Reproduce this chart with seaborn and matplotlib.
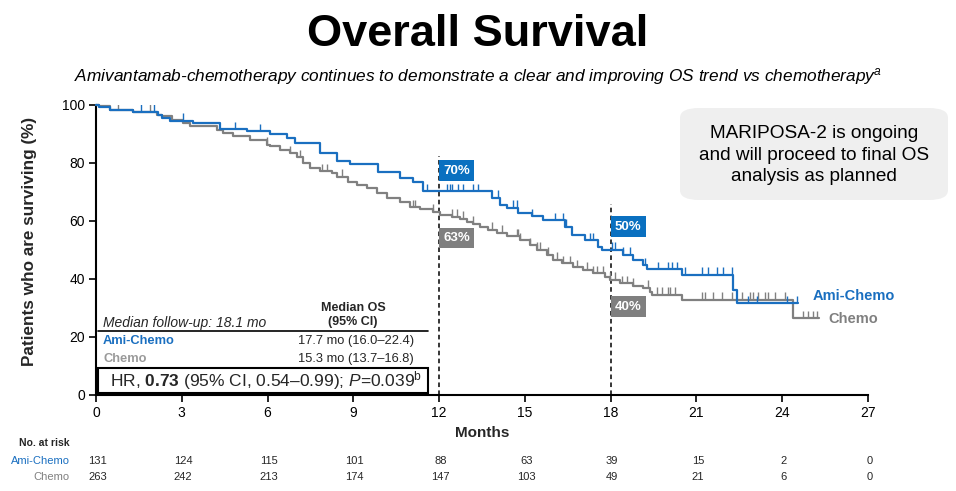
import numpy as np
import pandas as pd
import matplotlib
matplotlib.use("Agg")
import matplotlib.pyplot as plt
import matplotlib.transforms as mtransforms
from matplotlib.patches import FancyBboxPatch, Rectangle
import seaborn as sns

# ---------------- data ----------------
ami_t = [0, 0.1, 0.49, 1.29, 2.17, 2.31, 2.59, 3.39, 4.34, 5.28, 6.09, 6.68, 6.96, 7.83, 8.43, 8.88,
         9.86, 10.63, 11.09, 11.44, 13.85, 14.13, 14.38, 14.76, 15.25, 15.63, 16.40, 16.65,
         17.10, 17.56, 17.70, 18.43, 18.78, 19.13, 19.27, 20.50, 22.28, 22.42, 24.55]
ami_s = [100, 99.3, 98.3, 97.6, 96.6, 95.5, 94.5, 93.8, 91.7, 91.0, 90.0, 88.6, 86.9, 83.4, 80.7, 79.7,
         76.9, 75.0, 73.4, 70.3, 68.0, 65.5, 64.5, 62.8, 61.7, 60.3, 58.0, 55.2,
         53.4, 51.0, 50.0, 48.3, 46.5, 44.8, 43.4, 41.4, 36.2, 31.7, 31.7]
chemo_t = [0, 0.1, 0.49, 1.29, 2.13, 2.31, 2.66, 3.04, 3.29, 4.23, 4.44, 4.79, 5.39, 5.98, 6.09,
           6.44, 6.79, 7.03, 7.24, 7.49, 7.83, 8.25, 8.43, 8.81, 9.13, 9.48, 9.83, 10.18, 10.63,
           10.98, 11.33, 11.79, 12.03, 12.45, 12.73, 12.98, 13.19, 13.43, 13.71, 14.03, 14.38,
           14.83, 15.18, 15.42, 15.77, 15.98, 16.30, 16.68, 17.03, 17.38, 17.80, 17.98, 18.33,
           18.78, 19.13, 19.38, 19.45, 20.50, 24.38, 25.29]
chemo_s = [100, 99.5, 98.3, 97.6, 96.6, 96.2, 94.8, 93.8, 92.8, 91.4, 90.3, 89.3, 87.9, 86.2, 85.9,
           84.5, 83.4, 82.0, 80.0, 78.3, 77.2, 76.6, 75.2, 73.4, 72.4, 71.4, 69.7, 67.9, 66.6,
           64.8, 64.1, 63.1, 62.0, 61.4, 60.7, 59.7, 59.0, 58.0, 56.9, 55.9, 54.8,
           53.4, 51.7, 50.0, 48.3, 46.6, 45.5, 44.1, 43.1, 42.0, 40.7, 39.7, 38.6,
           37.6, 36.9, 35.5, 34.5, 32.8, 26.5, 26.5]

ami_cens = [1.57, 2.03, 3.04, 4.86, 5.74, 11.58, 12.28, 12.38, 12.45, 12.66, 12.84, 13.19, 13.36,
            14.06, 14.59, 14.73, 15.25, 16.05, 16.33, 16.44, 17.28, 17.38, 18.05, 18.15, 18.43,
            18.68, 19.20, 19.66, 20.01, 20.15, 20.32, 20.60, 21.20, 21.41, 21.72, 21.93, 22.24,
            22.80, 23.12, 24.17, 24.52]
chemo_cens = [0.77, 1.89, 5.98, 6.79, 7.14, 7.90, 8.08, 8.60, 11.09, 11.16, 11.79, 12.45, 12.63,
              12.84, 13.19, 13.85, 14.20, 14.73, 14.76, 14.83, 15.18, 15.42, 15.53, 15.81, 16.12,
              16.33, 16.58, 16.82, 17.17, 17.38, 17.52, 17.73, 17.98, 18.15, 18.40, 18.57, 18.78,
              19.31, 19.62, 19.80, 20.01, 20.08, 20.25, 21.20, 21.30, 21.58, 21.90, 22.24, 22.60,
              22.88, 22.98, 23.16, 23.40, 23.51, 23.75, 24.10, 24.73, 24.90, 25.08, 25.22]

risk_months = [0, 3, 6, 9, 12, 15, 18, 21, 24, 27]
risk_ami = [131, 124, 115, 101, 88, 63, 39, 15, 2, 0]
risk_chemo = [263, 242, 213, 174, 147, 103, 49, 21, 6, 0]

landmark_months = [12, 18]
landmark_ami = ["70%", "50%"]
landmark_chemo = ["63%", "40%"]

arms = ["Ami-Chemo", "Chemo"]
BLUE = "#1a6fc0"
GRAY = "#808080"
BOXBLUE = "#0a70c0"
BOXGRAY = "#7f7f7f"

# ---------------- figure ----------------
sns.set_theme(style="white")
plt.rcParams["font.family"] = ["Liberation Sans", "DejaVu Sans"]
plt.rcParams["mathtext.fontset"] = "custom"
plt.rcParams["mathtext.rm"] = "Liberation Sans"
plt.rcParams["mathtext.it"] = "Liberation Sans:italic"
plt.rcParams["mathtext.bf"] = "Liberation Sans:bold"

fig = plt.figure(figsize=(9.56, 4.91), dpi=100)
ax = fig.add_axes([96 / 956, 1 - 395 / 491, 772 / 956, 290 / 491])

df = pd.concat([
    pd.DataFrame({"Months": ami_t, "Surv": ami_s, "Arm": arms[0]}),
    pd.DataFrame({"Months": chemo_t, "Surv": chemo_s, "Arm": arms[1]}),
], ignore_index=True)

sns.lineplot(data=df, x="Months", y="Surv", hue="Arm", hue_order=arms,
             palette={arms[0]: BLUE, arms[1]: GRAY}, drawstyle="steps-post",
             estimator=None, sort=False, linewidth=1.6, legend=False, ax=ax)
for ln in ax.get_lines():
    ln.set_clip_on(False)
lines = ax.get_lines()
if len(lines) >= 2:
    lines[0].set_zorder(4)
    lines[1].set_zorder(3)


def step_val(ts, ss, c):
    i = np.searchsorted(np.array(ts), c, side="right") - 1
    return np.array(ss)[i]


ac = np.array(ami_cens)
cc = np.array(chemo_cens)
ax.vlines(cc, step_val(chemo_t, chemo_s, cc), step_val(chemo_t, chemo_s, cc) + 2.6,
          color=GRAY, lw=1.0, zorder=3)
ax.vlines(ac, step_val(ami_t, ami_s, ac), step_val(ami_t, ami_s, ac) + 2.6,
          color=BLUE, lw=1.0, zorder=4)

ax.set_xlim(0, 27)
ax.set_ylim(0, 100)
ax.set_xticks(risk_months)
ax.set_yticks([0, 20, 40, 60, 80, 100])
ax.tick_params(axis="both", direction="out", length=5, width=1.2, colors="black",
               labelsize=10, pad=3, left=True, bottom=True)
for s in ["top", "right"]:
    ax.spines[s].set_visible(False)
for s in ["left", "bottom"]:
    ax.spines[s].set_color("black")
    ax.spines[s].set_linewidth(1.5)
ax.set_xlabel("Months", fontsize=11, fontweight="bold", labelpad=4)
ax.set_ylabel("Patients who are surviving (%)", fontsize=12.3, fontweight="bold")
ax.yaxis.set_label_coords(-0.076, 0.528)
ax.patch.set_alpha(0)

# landmark dashed lines
ax.vlines([landmark_months[0]], 0, 82.5, colors="black", linestyles=(0, (3, 2.2)), lw=1.1, zorder=2)
ax.vlines([landmark_months[1]], 0, 66.0, colors="black", linestyles=(0, (3, 2.2)), lw=1.1, zorder=2)

lab_y_ami = [77.4, 58.1]
lab_y_chemo = [54.1, 30.5]
for m, ta, tc, ya, yc in zip(landmark_months, landmark_ami, landmark_chemo, lab_y_ami, lab_y_chemo):
    ax.text(m + 0.15, ya, ta, color="white", fontsize=9.5, fontweight="bold", va="center", ha="left",
            bbox=dict(boxstyle="square,pad=0.32", fc=BOXBLUE, ec="none"), zorder=6)
    ax.text(m + 0.15, yc, tc, color="white", fontsize=9.5, fontweight="bold", va="center", ha="left",
            bbox=dict(boxstyle="square,pad=0.32", fc=BOXGRAY, ec="none"), zorder=6)

# curve end labels
ax.text(25.05, 34.3, arms[0], color=BLUE, fontsize=10.5, fontweight="bold", va="center", ha="left")
ax.text(25.6, 26.2, arms[1], color=GRAY, fontsize=10.5, fontweight="bold", va="center", ha="left")

# ---------------- titles ----------------
fig.text(0.5, 1 - 35 / 491, "Overall Survival", ha="center", va="center", fontsize=32.5,
         fontweight="bold", color="black")
fig.text(0.5, 1 - 77 / 491,
         "Amivantamab-chemotherapy continues to demonstrate a clear and improving OS trend vs chemotherapy$^{a}$",
         ha="center", va="center", fontsize=12.4, style="italic", color="black")

# grey info box
box = FancyBboxPatch((680 / 956, 1 - 200 / 491), 268 / 956, 92 / 491,
                     boxstyle="round,pad=0,rounding_size=0.02", transform=fig.transFigure,
                     fc="#efefef", ec="none")
fig.patches.append(box)
fig.text(814 / 956, 1 - 155 / 491,
         "MARIPOSA-2 is ongoing\nand will proceed to final OS\nanalysis as planned",
         ha="center", va="center", fontsize=13.7, linespacing=1.33, color="black")

# ---------------- median table inside plot ----------------
def fy(py):
    return 1 - py / 491

fig.text(103 / 956, fy(323), "Median follow-up: 18.1 mo", style="italic", fontsize=10,
         ha="left", va="center")
fig.text(353 / 956, fy(308), "Median OS", fontweight="bold", fontsize=9, ha="center", va="center")
fig.text(353 / 956, fy(322), "(95% CI)", fontweight="bold", fontsize=9, ha="center", va="center")
fig.add_artist(plt.Line2D([98 / 956, 428 / 956], [fy(331), fy(331)], color="black", lw=1.2,
                          transform=fig.transFigure))
fig.text(103 / 956, fy(341), arms[0], color=BLUE, fontweight="bold", fontsize=9.3, ha="left", va="center")
fig.text(103 / 956, fy(359), arms[1], color="#9a9a9a", fontweight="bold", fontsize=9.3, ha="left", va="center")
fig.text(414 / 956, fy(341), "17.7 mo (16.0\u201322.4)", fontsize=9.3, ha="right", va="center")
fig.text(414 / 956, fy(359), "15.3 mo (13.7\u201316.8)", fontsize=9.3, ha="right", va="center")
fig.add_artist(Rectangle((98 / 956, fy(393)), 330 / 956, 25 / 491, transform=fig.transFigure,
                         fc="white", ec="black", lw=1.5, zorder=5))
fig.text(266 / 956, fy(380.5),
         "HR, $\\mathbf{0.73}$ (95% CI, 0.54\u20130.99); $\\mathit{P}$=0.039$^{\\mathrm{b}}$",
         fontsize=12.5, ha="center", va="center", zorder=6)

# ---------------- number at risk ----------------
trans = mtransforms.blended_transform_factory(ax.transData, fig.transFigure)
narrow = ["Liberation Sans Narrow", "Liberation Sans", "DejaVu Sans"]
fig.text(70 / 956, fy(443), "No. at risk", fontsize=7.5, fontweight="bold", ha="right", va="center",
         family=narrow)
fig.text(70 / 956, fy(461), arms[0], fontsize=8, color=BLUE, ha="right", va="center", family=narrow)
fig.text(70 / 956, fy(477), arms[1], fontsize=8, color=GRAY, ha="right", va="center", family=narrow)
for m, a, c in zip(risk_months, risk_ami, risk_chemo):
    fig.text(m + 0.05, fy(461), str(a), fontsize=8, ha="center", va="center", transform=trans, family=narrow)
    fig.text(m + 0.05, fy(477), str(c), fontsize=8, ha="center", va="center", transform=trans, family=narrow)

fig.savefig("out.png", dpi=100)
